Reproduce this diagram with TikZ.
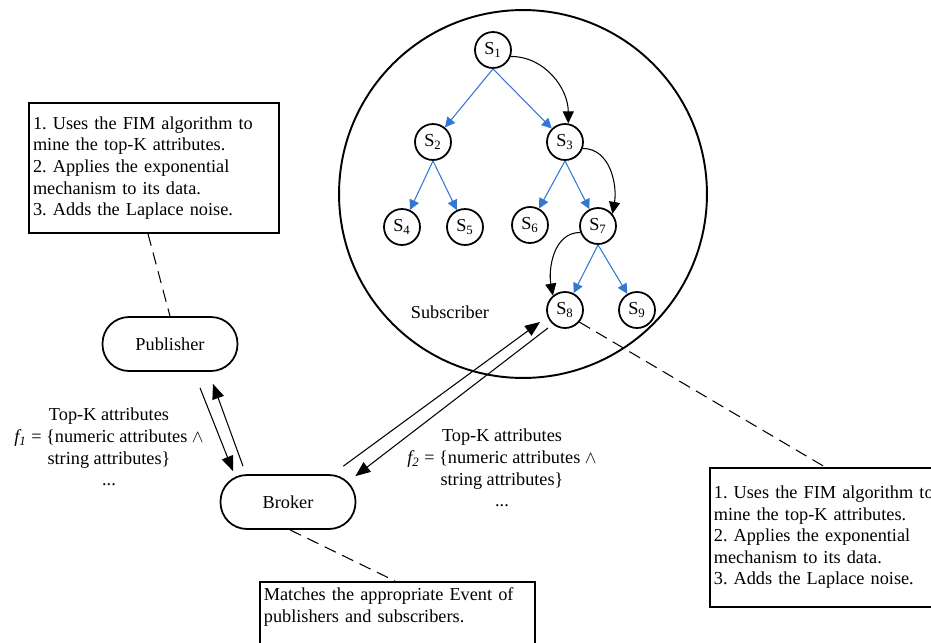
\documentclass[tikz,border=0pt]{standalone}
\usepackage{fontspec}
\setmainfont{Liberation Serif}
\usetikzlibrary{arrows.meta,calc}
\definecolor{blueedge}{RGB}{50,120,210}
\frenchspacing

\begin{document}
\begin{tikzpicture}[x=0.02cm, y=-0.02cm,
  font=\fontsize{10.4}{12.3}\selectfont,
  snode/.style={circle, draw, line width=1pt, minimum size=0.72cm, inner sep=0pt},
  party/.style={draw, line width=1pt, rounded corners=0.53cm, minimum height=1.08cm, minimum width=2.7cm},
  note/.style={draw, line width=1pt, align=left, inner xsep=0.08cm},
  tree/.style={blueedge, line width=0.6pt, -{Triangle[length=2mm,width=2mm]}},
  hop/.style={line width=0.6pt, -{Triangle[length=2.4mm,width=2.2mm]}},
  msg/.style={line width=0.6pt, -{Triangle[length=3mm,width=2.4mm]}},
  link/.style={line width=0.6pt, dash pattern=on 7pt off 4pt}]
  \useasboundingbox (0,0) rectangle (931,643);
  % subscriber side
  \draw[line width=1.1pt] (523,194) circle[radius=3.68cm];
  \node[snode] (s1) at (493,50) {S\textsubscript{1}};
  \node[snode] (s2) at (433,142) {S\textsubscript{2}};
  \node[snode] (s3) at (565,142) {S\textsubscript{3}};
  \node[snode] (s4) at (402,227) {S\textsubscript{4}};
  \node[snode] (s5) at (465,227) {S\textsubscript{5}};
  \node[snode] (s6) at (530,225) {S\textsubscript{6}};
  \node[snode] (s7) at (598,226) {S\textsubscript{7}};
  \node[snode] (s8) at (565,310) {S\textsubscript{8}};
  \node[snode] (s9) at (637,310) {S\textsubscript{9}};
  \node (sublbl) at (450,312) {Subscriber};
  \foreach \a/\b in {s1/s2, s1/s3, s2/s4, s2/s5, s3/s6, s3/s7, s7/s8, s7/s9}
    \draw[tree] (\a.south) -- (\b);
  % forwarding path
  \draw[hop] (s1.-20) to[out=0, in=90] (s3.80);
  \draw[hop] (s3.-20) to[out=0, in=80] (s7.40);
  \draw[hop] (s7.200) to[out=180, in=100] (s8.130);
  % publisher and broker
  \node[party] (pub) at (170,344) {Publisher};
  \node[party] (brk) at (288,502) {Broker};
  \draw[msg] ($(pub.south)+(30,16)$) -- ($(brk.north)+(-55,-3)$);
  \draw[msg] ($(brk.north)+(-45,-8)$) -- ($(pub.south)+(43,12)$);
  \draw[msg] ($(brk.north east)+(-13,-8)$) -- ($(s8)+(-25,12)$);
  \draw[msg] ($(s8)+(-17,18)$) -- ($(brk.north east)+(-1,2)$);
  \node[align=center] (f1) at (109,447) {Top-K attributes\\\textit{f\textsubscript{1}} = \{numeric attributes $\wedge$\\string attributes\}\\...};
  \node[align=center] (f2) at (502,468) {Top-K attributes\\\textit{f\textsubscript{2}} = \{numeric attributes $\wedge$\\string attributes\}\\...};
  % notes
  \node[note, text width=4.84cm, minimum height=2.6cm] (pubnote) at (154,168) {1. Uses the FIM algorithm to\\mine the top-K attributes.\\2. Applies the exponential\\mechanism to its data.\\3. Adds the Laplace noise.};
  \node[note, text width=4.6cm, minimum height=2.78cm, anchor=north west] (subnote) at (709,467) {1. Uses the FIM algorithm to\\mine the top-K attributes.\\2. Applies the exponential\\mechanism to its data.\\3. Adds the Laplace noise.};
  \node[note, text width=5.34cm, anchor=north west] (brknote) at (259,581) {Matches the appropriate Event of\\publishers and subscribers.\\\strut};
  \draw[link] ($(pubnote.south)+(-6,0)$) -- (pub.north);
  \draw[link] ($(brk.south)+(2,0)$) -- ($(brknote.north west)+(136,0)$);
  \draw[link] (s8.-40) -- ($(subnote.north west)+(116,0)$);
\end{tikzpicture}
\end{document}
